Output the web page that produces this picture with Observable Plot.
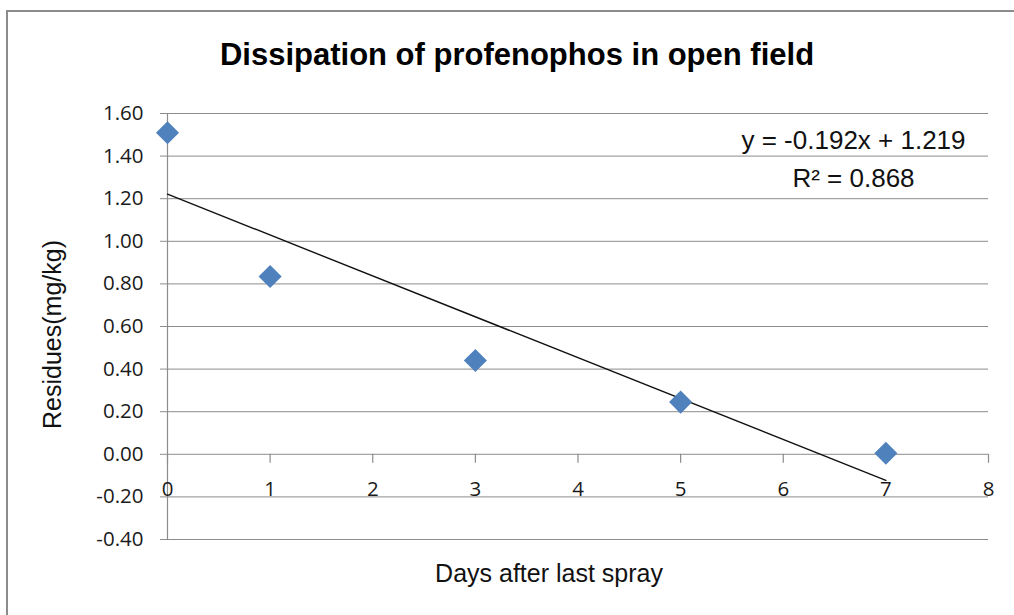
<!DOCTYPE html>
<html>
<head>
<meta charset="utf-8">
<script src="https://cdn.jsdelivr.net/npm/d3@7"></script>
<script src="https://cdn.jsdelivr.net/npm/@observablehq/plot@0.6"></script>
<style>
  html, body { margin: 0; padding: 0; background: #fff; }
  #wrap { position: relative; width: 1014px; height: 615px; overflow: hidden; }
  #frame { position: absolute; left: 6px; top: 10px; width: 1100px; height: 700px;
           border-top: 2px solid #8c8c8c; border-left: 2px solid #8c8c8c; }
  #chart { position: absolute; left: 0; top: 0; }
</style>
</head>
<body>
<div id="wrap"><div id="frame"></div><div id="chart"></div></div>
<script>
// ---- data ----
const days = [0, 1, 3, 5, 7];
const residues = [1.51, 0.835, 0.44, 0.245, 0.005];
const yTicks = [-0.4, -0.2, 0, 0.2, 0.4, 0.6, 0.8, 1.0, 1.2, 1.4, 1.6];
const xTicks = [0, 1, 2, 3, 4, 5, 6, 7, 8];
const titleText = "Dissipation of profenophos in open field";
const xLabel = "Days after last spray";
const yLabel = "Residues(mg/kg)";
const equationLines = ["y = -0.192x + 1.219", "R² = 0.868"];

const data = days.map((d, i) => ({day: d, residue: residues[i]}));

const grid = "#8c8c8c";
const tickFont = "'Open Sans', 'DejaVu Sans', sans-serif";
const labelFont = "'Liberation Sans', Arial, sans-serif";

const plot = Plot.plot({
  width: 1014,
  height: 615,
  marginLeft: 167,
  marginRight: 26,
  marginTop: 113,
  marginBottom: 76,
  style: {background: "transparent", overflow: "visible"},
  x: {domain: [0, 8], axis: null},
  y: {domain: [-0.4, 1.6]},
  marks: [
    // horizontal gridlines (extend left to form y tick marks)
    Plot.ruleY(yTicks, {stroke: grid, strokeWidth: 1, insetLeft: -7}),
    // vertical axis line
    Plot.ruleX([0], {stroke: grid, strokeWidth: 1.2}),
    // x tick marks on the zero line
    Plot.ruleX(xTicks, {x: d => d, y1: 0, y2: 0, insetBottom: -9, stroke: grid, strokeWidth: 1.2}),
    // y tick labels
    Plot.axisY({ticks: yTicks, tickSize: 0, tickPadding: 24, tickFormat: d => d.toFixed(2),
      fontSize: 20.5, fontFamily: tickFont, fill: "#1a1a1a", letterSpacing: 0.9, label: null}),
    // x tick labels below zero line
    Plot.text(xTicks, {x: d => d, y: 0, dy: 35, text: d => String(d),
      fontSize: 20.5, fontFamily: tickFont, fill: "#1a1a1a", lineAnchor: "middle"}),
    // trend line
    Plot.linearRegressionY(data, {x: "day", y: "residue", ci: 0, stroke: "#111", strokeWidth: 1.4}),
    // points
    Plot.dot(data, {x: "day", y: "residue", symbol: "diamond2", r: 10.4, fill: "#4F81BD", stroke: "none"}),
    // equation
    Plot.text([equationLines[0]], {frameAnchor: "top-right", dx: -135, dy: 27, textAnchor: "middle",
      lineAnchor: "middle", fontSize: 26, fontFamily: labelFont, fill: "#111"}),
    Plot.text([equationLines[1]], {frameAnchor: "top-right", dx: -135, dy: 65, textAnchor: "middle",
      lineAnchor: "middle", fontSize: 26, fontFamily: labelFont, fill: "#111"}),
    // title
    Plot.text([titleText], {frameAnchor: "top", dx: -61, dy: -58, lineAnchor: "middle",
      fontSize: 31, fontWeight: "bold", fontFamily: labelFont, fill: "#000", letterSpacing: -0.7}),
    // axis titles
    Plot.text([xLabel], {frameAnchor: "bottom", dx: -29, dy: 34, lineAnchor: "middle",
      fontSize: 25, fontFamily: labelFont, fill: "#111"}),
    Plot.text([yLabel], {frameAnchor: "left", dx: -115, dy: 8, rotate: -90, lineAnchor: "middle",
      textAnchor: "middle", fontSize: 25, fontFamily: labelFont, fill: "#111"})
  ]
});
document.getElementById("chart").appendChild(plot);
</script>
</body>
</html>
